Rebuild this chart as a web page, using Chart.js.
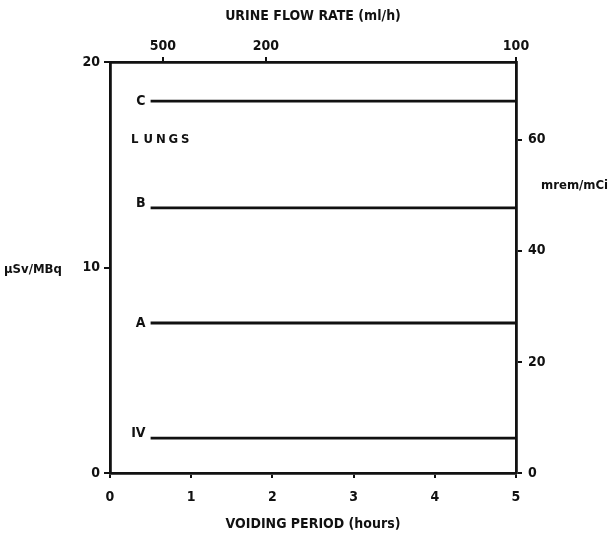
<!DOCTYPE html>
<html>
<head>
<meta charset="utf-8">
<script src="https://cdn.jsdelivr.net/npm/chart.js@4.4.1/dist/chart.umd.min.js"></script>
<style>
  html,body{margin:0;padding:0;background:#fff;}
  canvas{display:block;}
</style>
</head>
<body>
<canvas id="c" width="613" height="537"></canvas>
<script>
// voiding period (h) vs dose, one flat line per route
const seriesNames = ["IV", "A", "B", "C"];
const voidingHours = [0.5, 5];
const ivDose = [1.7, 1.7];
const aDose  = [7.3, 7.3];
const bDose  = [12.9, 12.9];
const cDose  = [18.1, 18.1];

const bottomTicks = [0, 1, 2, 3, 4, 5];
const leftTicks   = [0, 10, 20];
const rightTicks  = [0, 20, 40, 60];
const flowTickHours  = [0.65, 1.92, 5];
const flowTickLabels = ["500", "200", "100"];

const MREM_PER_USV = 3.7; // 1 µSv/MBq = 3.7 mrem/mCi
const FONT = "'Liberation Sans Narrow','DejaVu Sans Condensed',sans-serif";
const ink = "#111";

const allDose = [ivDose, aDose, bDose, cDose];

const labelPlugin = {
  id: "labels",
  afterDraw(chart){
    const ctx = chart.ctx, x = chart.scales.x, y = chart.scales.y;
    ctx.save();
    ctx.fillStyle = ink;
    ctx.font = "bold 14px " + FONT;
    ctx.textBaseline = "middle";
    ctx.textAlign = "right";
    seriesNames.forEach((n, i) => {
      const px = x.getPixelForValue(voidingHours[0]) - 5;
      const py = y.getPixelForValue(allDose[i][0]) - (n === "IV" || n === "B" ? 5 : 0);
      ctx.fillText(n, px, py);
    });
    ctx.textAlign = "left";
    ctx.font = "bold 13px " + FONT;
    const lx = x.getPixelForValue(0.26), ly = y.getPixelForValue(16.2);
    "LUNGS".split("").forEach((ch, i) => ctx.fillText(ch, lx + i * 12.5, ly));
    // unit labels (horizontal)
    ctx.fillText("µSv/MBq", 4, 270);
    ctx.fillText("mrem/mCi", 541, 186);
    ctx.restore();
  }
};

const tickFont = { family: FONT, size: 14, weight: "bold" };
const titleFont = { family: FONT, size: 14, weight: "bold" };

new Chart(document.getElementById("c"), {
  type: "line",
  data: {
    datasets: seriesNames.map((n, i) => ({
      label: n,
      data: voidingHours.map((h, k) => ({ x: h, y: allDose[i][k] })),
      borderColor: ink,
      borderWidth: 2.8,
      pointRadius: 0,
      fill: false,
      tension: 0
    }))
  },
  options: {
    responsive: false,
    animation: false,
    layout: { padding: 0 },
    plugins: { legend: { display: false }, tooltip: { enabled: false } },
    scales: {
      x: {
        type: "linear", position: "bottom", min: 0, max: 5,
        afterBuildTicks: s => { s.ticks = bottomTicks.map(v => ({ value: v })); },
        afterFit: s => { s.height = 64; },
        ticks: { color: ink, font: tickFont, padding: 11, callback: v => String(v) },
        grid: { drawOnChartArea: false, color: ink, tickLength: 5, lineWidth: 2 },
        border: { color: ink, width: 2.8 },
        title: { display: true, text: "VOIDING PERIOD (hours)", color: ink, font: titleFont, padding: { top: 6 } }
      },
      x2: {
        type: "linear", position: "top", min: 0, max: 5,
        afterBuildTicks: s => { s.ticks = flowTickHours.map(v => ({ value: v })); },
        afterFit: s => { s.height = 62; },
        ticks: { color: ink, font: tickFont, padding: 2,
          callback: (v, i) => flowTickLabels[i] },
        grid: { drawOnChartArea: false, color: ink, tickLength: 5, lineWidth: 2 },
        border: { color: ink, width: 2.8 },
        title: { display: true, text: "URINE FLOW RATE (ml/h)", color: ink, font: titleFont, padding: { top: 8, bottom: 8 } }
      },
      y: {
        type: "linear", position: "left", min: 0, max: 20,
        afterBuildTicks: s => { s.ticks = leftTicks.map(v => ({ value: v })); },
        afterFit: s => { s.width = 110; },
        ticks: { color: ink, font: tickFont, padding: 4 },
        grid: { drawOnChartArea: false, color: ink, tickLength: 6, lineWidth: 2 },
        border: { color: ink, width: 2.8 }
      },
      y2: {
        type: "linear", position: "right", min: 0, max: 20 * MREM_PER_USV,
        afterBuildTicks: s => { s.ticks = rightTicks.map(v => ({ value: v })); },
        afterFit: s => { s.width = 97; },
        ticks: { color: ink, font: tickFont, padding: 6 },
        grid: { drawOnChartArea: false, color: ink, tickLength: 6, lineWidth: 2 },
        border: { color: ink, width: 2.8 }
      }
    }
  },
  plugins: [labelPlugin]
});
</script>
</body>
</html>
